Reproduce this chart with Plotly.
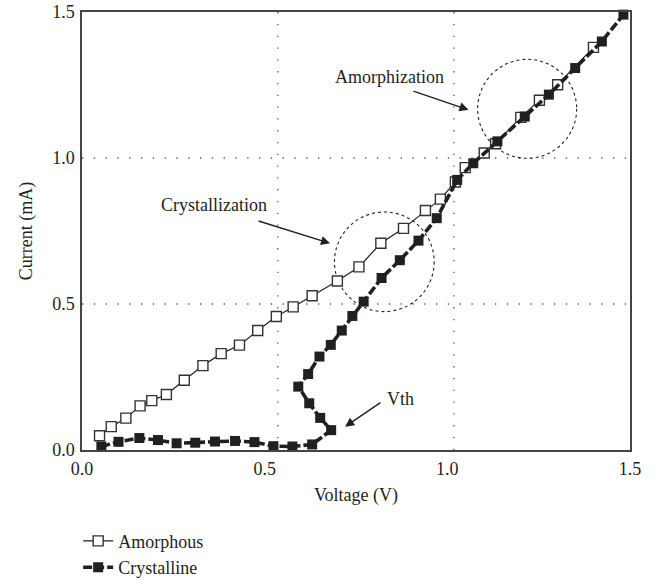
import plotly.graph_objects as go

# Current-voltage sweeps of the phase-change cell
amorphous_v = [0.048, 0.080, 0.120, 0.159, 0.191, 0.231, 0.280, 0.331, 0.381, 0.431,
               0.481, 0.532, 0.578, 0.630, 0.699, 0.758, 0.818, 0.880, 0.940, 0.981,
               1.022, 1.049, 1.101, 1.132, 1.201, 1.252, 1.302, 1.400]
amorphous_i = [0.049, 0.080, 0.109, 0.151, 0.169, 0.190, 0.239, 0.289, 0.330, 0.359,
               0.409, 0.457, 0.490, 0.528, 0.579, 0.627, 0.708, 0.759, 0.820, 0.859,
               0.918, 0.967, 1.017, 1.049, 1.139, 1.198, 1.251, 1.379]

crystalline_v = [0.053, 0.100, 0.157, 0.208, 0.259, 0.310, 0.364, 0.419, 0.472, 0.524,
                 0.576, 0.630, 0.682, 0.652, 0.622, 0.592, 0.619, 0.650, 0.681, 0.711,
                 0.740, 0.771, 0.820, 0.870, 0.921, 0.971, 1.027, 1.071, 1.137, 1.212,
                 1.278, 1.350, 1.423, 1.482]
crystalline_i = [0.012, 0.028, 0.041, 0.034, 0.023, 0.025, 0.029, 0.031, 0.027, 0.013,
                 0.012, 0.019, 0.068, 0.110, 0.160, 0.217, 0.260, 0.320, 0.360, 0.409,
                 0.459, 0.508, 0.589, 0.650, 0.717, 0.794, 0.925, 0.982, 1.057, 1.142,
                 1.217, 1.308, 1.399, 1.491]

tick_vals = [0.0, 0.5, 1.0, 1.5]
tick_text = ["0.0", "0.5", "1.0", "1.5"]

# dotted guide lines
x_guides = [0.536, 1.018]
y_guides = [0.5, 1.0]

# dotted regions: (x0, y0, x1, y1)
regions = [(0.691, 0.474, 0.964, 0.815), (1.083, 0.999, 1.354, 1.338)]

# labelled arrows: text, text position, arrow tail, arrow head
callouts = [
    ("Amorphization", (0.842, 1.279), (0.903, 1.231), (1.058, 1.165)),
    ("Crystallization", (0.362, 0.840), (0.479, 0.786), (0.679, 0.708)),
    ("Vth", (0.871, 0.175), (0.821, 0.166), (0.720, 0.080)),
]

FONT = "Liberation Serif"
INK = "#231f20"
FS = 18

fig = go.Figure()

fig.add_trace(go.Scatter(
    x=amorphous_v, y=amorphous_i, name="Amorphous",
    mode="lines+markers", cliponaxis=False,
    line=dict(color=INK, width=1.2),
    marker=dict(symbol="square", size=10, color="white",
                line=dict(color="#333333", width=1.4)),
))
fig.add_trace(go.Scatter(
    x=crystalline_v, y=crystalline_i, name="Crystalline",
    mode="lines+markers", cliponaxis=False,
    line=dict(color=INK, width=3.6, dash="9px,3px"),
    marker=dict(symbol="square", size=10, color=INK,
                line=dict(color=INK, width=0)),
))

shapes = []
for gx in x_guides:
    shapes.append(dict(type="line", xref="x", yref="paper", x0=gx, x1=gx, y0=0, y1=1,
                       line=dict(color="#555555", width=1.3, dash="1.3px,10.5px"),
                       layer="below"))
for gy in y_guides:
    shapes.append(dict(type="line", xref="paper", yref="y", x0=0, x1=1, y0=gy, y1=gy,
                       line=dict(color="#555555", width=1.3, dash="1.3px,10.5px"),
                       layer="below"))
for x0, y0, x1, y1 in regions:
    shapes.append(dict(type="circle", xref="x", yref="y", x0=x0, y0=y0, x1=x1, y1=y1,
                       line=dict(color=INK, width=1.1, dash="dot"), layer="below"))

annotations = []
for text, (tx, ty), (ax, ay), (hx, hy) in callouts:
    annotations.append(dict(x=tx, y=ty, xref="x", yref="y", text=text, showarrow=False,
                            font=dict(family=FONT, size=FS, color=INK)))
    annotations.append(dict(x=hx, y=hy, ax=ax, ay=ay, xref="x", yref="y",
                            axref="x", ayref="y", text="", showarrow=True,
                            arrowhead=2, arrowsize=1.3, arrowwidth=1.4,
                            arrowcolor=INK, standoff=0, startstandoff=0))

axis_common = dict(
    range=[0, 1.5], tickvals=tick_vals, ticktext=tick_text,
    showgrid=False, zeroline=False, showline=True, mirror=True,
    linecolor="#444444", linewidth=1.5, ticks="", automargin=False,
    tickfont=dict(family=FONT, size=FS, color=INK),
)

fig.update_layout(
    width=661, height=584,
    margin=dict(l=82, r=31, t=12, b=134, autoexpand=False),
    paper_bgcolor="white", plot_bgcolor="white",
    font=dict(family=FONT, size=FS, color=INK),
    xaxis=dict(title=dict(text="Voltage (V)", font=dict(family=FONT, size=FS), standoff=10),
               ticklabelstandoff=2, **axis_common),
    yaxis=dict(title=dict(text="Current (mA)", font=dict(family=FONT, size=FS)),
               ticklabelstandoff=2, **axis_common),
    shapes=shapes,
    annotations=annotations,
    legend=dict(x=-0.007, y=-0.166, xanchor="left", yanchor="top",
                font=dict(family=FONT, size=FS, color=INK),
                bgcolor="rgba(0,0,0,0)", tracegroupgap=0),
    showlegend=True,
)

fig.write_html("out.html")
